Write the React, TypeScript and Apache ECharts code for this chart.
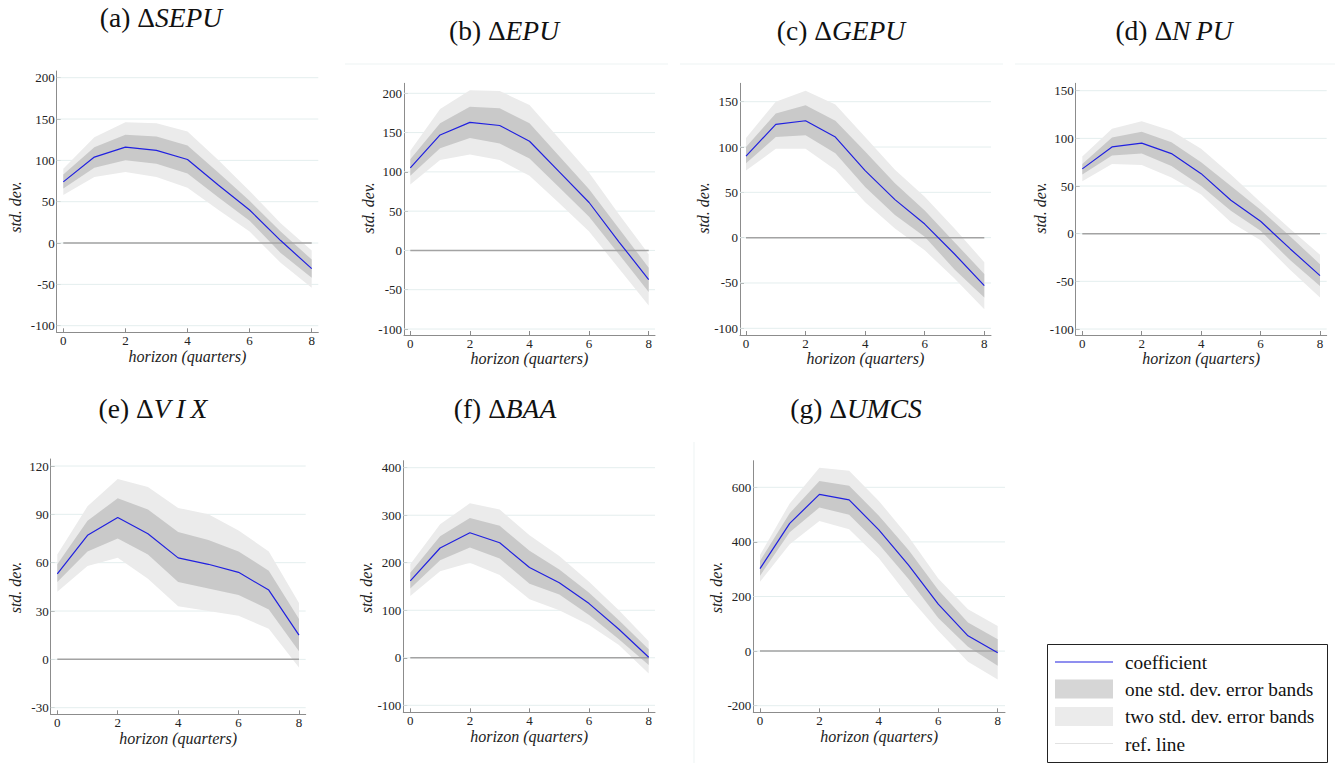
import { useEffect, useRef } from "react";
import * as echarts from "echarts";

// Horizons (quarters) and the x tick values shared by all panels
const horizons = [0, 1, 2, 3, 4, 5, 6, 7, 8];
const xTicks = [0, 2, 4, 6, 8];

// (a) ΔSEPU
const sepuCoef = [74, 104, 116, 112, 101, 70, 40, 3, -31];
const sepuOneHi = [83, 116, 131, 129, 118, 85, 51, 14, -20];
const sepuOneLo = [66, 91, 100, 96, 84, 55, 27, -12, -42];
const sepuTwoHi = [90, 128, 146, 145, 135, 100, 63, 24, -9];
const sepuTwoLo = [58, 80, 86, 80, 67, 40, 14, -24, -54];
const sepuTicks = [-100, -50, 0, 50, 100, 150, 200];

// (b) ΔEPU
const epuCoef = [105, 147, 163, 159, 139, 100, 61, 11, -37];
const epuOneHi = [116, 162, 183, 181, 162, 120, 78, 28, -22];
const epuOneLo = [95, 130, 143, 136, 117, 80, 43, -5, -53];
const epuTwoHi = [127, 180, 204, 203, 185, 142, 99, 46, -5];
const epuTwoLo = [84, 115, 122, 115, 95, 60, 24, -23, -70];
const epuTicks = [-100, -50, 0, 50, 100, 150, 200];

// (c) ΔGEPU
const gepuCoef = [90, 125, 129, 111, 74, 42, 15, -18, -53];
const gepuOneHi = [100, 137, 146, 129, 95, 60, 30, -5, -40];
const gepuOneLo = [82, 111, 113, 93, 56, 25, 1, -35, -66];
const gepuTwoHi = [110, 150, 162, 147, 111, 75, 45, 10, -27];
const gepuTwoLo = [74, 98, 98, 75, 39, 10, -14, -45, -79];
const gepuTicks = [-100, -50, 0, 50, 100, 150];

// (d) ΔNPU
const npuCoef = [68, 91, 95, 84, 63, 35, 13, -16, -44];
const npuOneHi = [73, 101, 107, 96, 75, 50, 25, -3, -32];
const npuOneLo = [62, 82, 84, 71, 50, 24, 3, -28, -55];
const npuTwoHi = [81, 110, 118, 108, 89, 62, 33, 5, -22];
const npuTwoLo = [55, 73, 72, 59, 41, 12, -7, -38, -67];
const npuTicks = [-100, -50, 0, 50, 100, 150];

// (e) ΔVIX
const vixCoef = [53, 77, 88, 78, 63, 59, 54, 43, 15];
const vixOneHi = [59, 86, 100, 93, 79, 74, 67, 55, 25];
const vixOneLo = [48, 67, 75, 65, 48, 44, 40, 31, 5];
const vixTwoHi = [65, 95, 112, 107, 94, 90, 80, 67, 35];
const vixTwoLo = [42, 58, 63, 50, 33, 30, 27, 19, -5];
const vixTicks = [-30, 0, 30, 60, 90, 120];

// (f) ΔBAA
const baaCoef = [162, 231, 263, 242, 190, 158, 114, 60, 1];
const baaOneHi = [179, 256, 294, 278, 225, 186, 137, 79, 18];
const baaOneLo = [146, 205, 232, 209, 156, 133, 90, 39, -15];
const baaTwoHi = [197, 281, 325, 312, 258, 214, 160, 100, 35];
const baaTwoLo = [130, 182, 200, 174, 123, 100, 69, 27, -33];
const baaTicks = [-100, 0, 100, 200, 300, 400];

// (g) ΔUMCS
const umcsCoef = [302, 468, 574, 554, 444, 315, 172, 56, -6];
const umcsOneHi = [330, 505, 623, 606, 496, 370, 224, 105, 43];
const umcsOneLo = [276, 435, 526, 499, 391, 264, 121, 16, -54];
const umcsTwoHi = [352, 541, 672, 661, 550, 419, 266, 153, 92];
const umcsTwoLo = [254, 391, 477, 446, 340, 200, 75, -39, -104];
const umcsTicks = [-200, 0, 200, 400, 600];

const panels = [
  { title: "(a) Δ{i|SEPU}", coef: sepuCoef, oneHi: sepuOneHi, oneLo: sepuOneLo, twoHi: sepuTwoHi, twoLo: sepuTwoLo, ticks: sepuTicks },
  { title: "(b) Δ{i|EPU}", coef: epuCoef, oneHi: epuOneHi, oneLo: epuOneLo, twoHi: epuTwoHi, twoLo: epuTwoLo, ticks: epuTicks },
  { title: "(c) Δ{i|GEPU}", coef: gepuCoef, oneHi: gepuOneHi, oneLo: gepuOneLo, twoHi: gepuTwoHi, twoLo: gepuTwoLo, ticks: gepuTicks },
  { title: "(d) Δ{i|N\u2009PU}", coef: npuCoef, oneHi: npuOneHi, oneLo: npuOneLo, twoHi: npuTwoHi, twoLo: npuTwoLo, ticks: npuTicks },
  { title: "(e) Δ{i|V\u2009I\u2009X}", coef: vixCoef, oneHi: vixOneHi, oneLo: vixOneLo, twoHi: vixTwoHi, twoLo: vixTwoLo, ticks: vixTicks },
  { title: "(f) Δ{i|BAA}", coef: baaCoef, oneHi: baaOneHi, oneLo: baaOneLo, twoHi: baaTwoHi, twoLo: baaTwoLo, ticks: baaTicks },
  { title: "(g) Δ{i|UMCS}", coef: umcsCoef, oneHi: umcsOneHi, oneLo: umcsOneLo, twoHi: umcsTwoHi, twoLo: umcsTwoLo, ticks: umcsTicks },
];

// Pixel layout of each panel: axis box, pixel rows of the lowest/highest y tick,
// pixel columns of x = 0 and x = 8, title centre and y-name centre.
const layouts = [
  { left: 56.7, top: 71, right: 318.3, bottom: 332.3, yLoPx: 325.7, yHiPx: 77.7, x0Px: 63.3, x8Px: 311.7, tx: 161, ty: 17, nx: 15, ny: 207 },
  { left: 404, top: 83.3, right: 655, bottom: 335, yLoPx: 329, yHiPx: 93.3, x0Px: 410.3, x8Px: 648.7, tx: 504, ty: 30.5, nx: 368, ny: 208 },
  { left: 740, top: 83.3, right: 991, bottom: 335, yLoPx: 328.3, yHiPx: 101.7, x0Px: 746, x8Px: 984.3, tx: 841, ty: 30.5, nx: 703.3, ny: 208 },
  { left: 1075.7, top: 83.3, right: 1326.7, bottom: 335, yLoPx: 329, yHiPx: 90.7, x0Px: 1082.3, x8Px: 1320, tx: 1174, ty: 30.5, nx: 1040, ny: 208 },
  { left: 50.7, top: 459, right: 305.7, bottom: 714.3, yLoPx: 707.7, yHiPx: 466, x0Px: 57.3, x8Px: 299, tx: 153, ty: 408.5, nx: 15, ny: 587.5 },
  { left: 403.3, top: 460.7, right: 655, bottom: 712.3, yLoPx: 705.3, yHiPx: 467.7, x0Px: 410.3, x8Px: 648.7, tx: 505, ty: 408.5, nx: 366.7, ny: 587.5 },
  { left: 753.3, top: 460.7, right: 1005, bottom: 712.3, yLoPx: 705.7, yHiPx: 487.3, x0Px: 760, x8Px: 997.7, tx: 856, ty: 408.5, nx: 716.7, ny: 587.5 },
];

const SERIF = "'Liberation Serif', 'Times New Roman', 'DejaVu Serif', serif";
const AXIS_COLOR = "#8c8c8c";
const TEXT_COLOR = "#222";
const COEF_COLOR = "#2020e0";
const ONE_BAND = "#c9c9c9";
const TWO_BAND = "#ebebeb";
const GRID_LINE = "#e4eeee";
const ZERO_LINE = "#a3a3a3";
const TITLE_SIZE = 27.5;

function bandSeries(i: number, hi: number[], lo: number[], fill: string, z: number) {
  return {
    type: "custom",
    xAxisIndex: i,
    yAxisIndex: i,
    silent: true,
    z,
    data: [[0, 0]],
    renderItem: (_params: any, api: any) => {
      const pts: number[][] = [];
      horizons.forEach((h, k) => pts.push(api.coord([h, hi[k]])));
      for (let k = horizons.length - 1; k >= 0; k--) pts.push(api.coord([horizons[k], lo[k]]));
      return { type: "polygon", shape: { points: pts }, style: { fill } };
    },
  };
}

function buildOption() {
  const grid: any[] = [];
  const xAxis: any[] = [];
  const yAxis: any[] = [];
  const series: any[] = [];
  const graphic: any[] = [];

  panels.forEach((p, i) => {
    const L = layouts[i];
    const lo = p.ticks[0];
    const hi = p.ticks[p.ticks.length - 1];
    const yUnit = (L.yLoPx - L.yHiPx) / (hi - lo);
    const yMax = hi + (L.yHiPx - L.top) / yUnit;
    const yMin = lo - (L.bottom - L.yLoPx) / yUnit;
    const xUnit = (L.x8Px - L.x0Px) / 8;
    const xMin = -(L.x0Px - L.left) / xUnit;
    const xMax = 8 + (L.right - L.x8Px) / xUnit;

    grid.push({ left: L.left, top: L.top, width: L.right - L.left, height: L.bottom - L.top });

    xAxis.push({
      gridIndex: i,
      type: "value",
      min: xMin,
      max: xMax,
      axisLine: { show: true, onZero: false, lineStyle: { color: AXIS_COLOR, width: 1 } },
      axisTick: { show: true, inside: true, length: 4, customValues: xTicks, lineStyle: { color: AXIS_COLOR } },
      axisLabel: { customValues: xTicks, margin: 2, fontFamily: SERIF, fontSize: 13, color: TEXT_COLOR },
      splitLine: { show: false },
      name: "horizon (quarters)",
      nameLocation: "middle",
      nameGap: 15,
      nameTextStyle: { fontFamily: SERIF, fontSize: 16, fontStyle: "italic", color: TEXT_COLOR },
    });

    yAxis.push({
      gridIndex: i,
      type: "value",
      min: yMin,
      max: yMax,
      axisLine: { show: true, onZero: false, lineStyle: { color: AXIS_COLOR, width: 1 } },
      axisTick: { show: true, inside: true, length: 4, customValues: p.ticks, lineStyle: { color: AXIS_COLOR } },
      axisLabel: { customValues: p.ticks, margin: 2, fontFamily: SERIF, fontSize: 13, color: TEXT_COLOR },
      splitLine: { show: false },
    });

    // horizontal grid lines at each y tick
    series.push({
      type: "custom",
      xAxisIndex: i,
      yAxisIndex: i,
      silent: true,
      z: 1,
      data: p.ticks.map((t) => [0, t]),
      renderItem: (_params: any, api: any) => {
        const t = api.value(1);
        const a = api.coord([xMin, t]);
        const b = api.coord([xMax, t]);
        return {
          type: "line",
          shape: { x1: a[0], y1: a[1], x2: b[0], y2: b[1] },
          style: { stroke: GRID_LINE, lineWidth: 1 },
        };
      },
    });

    series.push(bandSeries(i, p.twoHi, p.twoLo, TWO_BAND, 2));
    series.push(bandSeries(i, p.oneHi, p.oneLo, ONE_BAND, 3));

    // reference line at zero
    series.push({
      type: "line",
      xAxisIndex: i,
      yAxisIndex: i,
      silent: true,
      z: 4,
      symbol: "none",
      data: [[0, 0], [8, 0]],
      lineStyle: { color: ZERO_LINE, width: 1.5 },
    });

    series.push({
      type: "line",
      name: "coefficient",
      xAxisIndex: i,
      yAxisIndex: i,
      silent: true,
      z: 5,
      symbol: "none",
      data: horizons.map((h, k) => [h, p.coef[k]]),
      lineStyle: { color: COEF_COLOR, width: 1.2 },
    });

    graphic.push({
      type: "text",
      x: L.tx,
      y: L.ty,
      style: {
        text: p.title,
        fontFamily: SERIF,
        fontSize: TITLE_SIZE,
        fill: "#111",
        align: "center",
        verticalAlign: "middle",
        rich: { i: { fontFamily: SERIF, fontSize: TITLE_SIZE, fontStyle: "italic", fill: "#111" } },
      },
    });

    graphic.push({
      type: "text",
      x: L.nx,
      y: L.ny,
      rotation: Math.PI / 2,
      style: {
        text: "std. dev.",
        fontFamily: SERIF,
        fontSize: 16,
        fontStyle: "italic",
        fill: TEXT_COLOR,
        align: "center",
        verticalAlign: "middle",
      },
    });
  });

  // faint frame edges of the individual graph regions
  const frame = "#edf3f3";
  [
    [345, 64, 668, 64],
    [680, 64, 1003, 64],
    [1015, 64, 1335, 64],
    [694, 442, 694, 763],
  ].forEach(([x1, y1, x2, y2]) =>
    graphic.push({ type: "line", shape: { x1, y1, x2, y2 }, style: { stroke: frame, lineWidth: 1 } })
  );

  // legend box
  const lx = 1055;
  const lw = 58;
  const tx = 1125;
  graphic.push({
    type: "rect",
    shape: { x: 1047.5, y: 644.5, width: 280, height: 118 },
    style: { fill: "#fff", stroke: "#222", lineWidth: 1 },
  });
  graphic.push({ type: "line", shape: { x1: lx, y1: 662, x2: lx + lw, y2: 662 }, style: { stroke: COEF_COLOR, lineWidth: 1.2 } });
  graphic.push({ type: "rect", shape: { x: lx, y: 679.5, width: lw, height: 19 }, style: { fill: "#d6d6d6" } });
  graphic.push({ type: "rect", shape: { x: lx, y: 707, width: lw, height: 19 }, style: { fill: TWO_BAND } });
  graphic.push({ type: "line", shape: { x1: lx, y1: 743.5, x2: lx + lw, y2: 743.5 }, style: { stroke: "#e2e2e2", lineWidth: 1 } });
  const legendTexts = ["coefficient", "one std. dev. error bands", "two std. dev. error bands", "ref. line"];
  const legendRows = [662, 689, 716.5, 744];
  legendTexts.forEach((t, k) =>
    graphic.push({
      type: "text",
      x: tx,
      y: legendRows[k],
      style: { text: t, fontFamily: SERIF, fontSize: 19.3, fill: "#111", align: "left", verticalAlign: "middle" },
    })
  );

  return {
    animation: false,
    backgroundColor: "#ffffff",
    grid,
    xAxis,
    yAxis,
    series,
    graphic,
  };
}

export default function App() {
  const ref = useRef<HTMLDivElement>(null);
  useEffect(() => {
    if (!ref.current) return;
    const chart = echarts.init(ref.current, undefined, { renderer: "svg" });
    chart.setOption(buildOption() as any);
    return () => chart.dispose();
  }, []);
  return (
    <div
      ref={ref}
      style={{ position: "fixed", left: 0, top: 0, width: 1335, height: 763, background: "#fff" }}
    />
  );
}
